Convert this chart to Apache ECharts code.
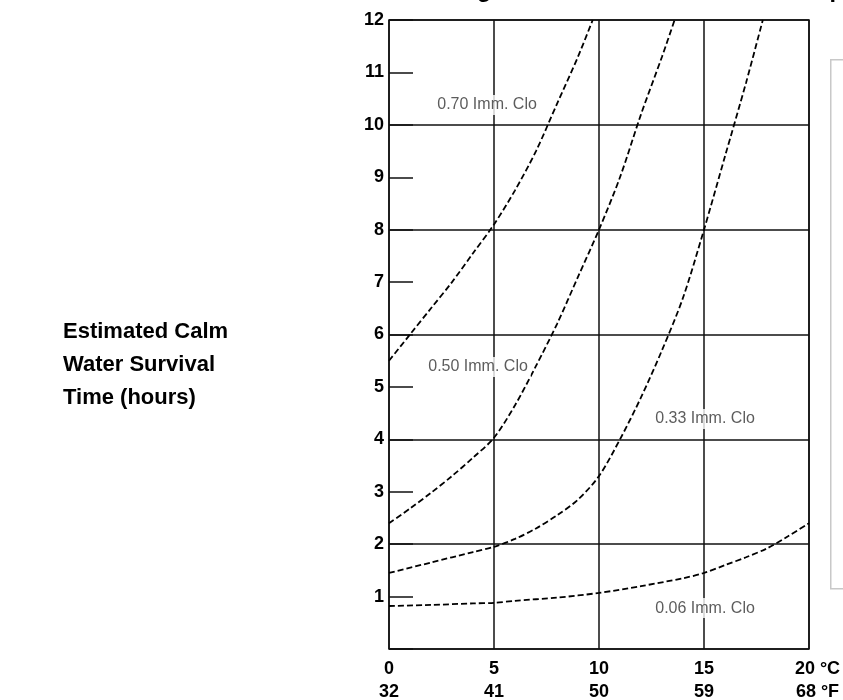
<!DOCTYPE html>
<html><head><meta charset="utf-8">
<script src="https://cdn.jsdelivr.net/npm/echarts@6/dist/echarts.min.js"></script>
<style>html,body{margin:0;padding:0;background:#fff}#c{width:843px;height:700px}</style>
</head><body><div id="c"></div><script>
// Tick labels
const tempC = [0, 5, 10, 15, 20];
const tempF = [32, 41, 50, 59, 68];
const unitC = '°C', unitF = '°F';
const hoursMin = 0, hoursMax = 12;

// Curves: [water temp °C, survival hours]
const clo070 = [[0,5.5],[1,6.0],[2,6.5],[3,7.0],[4,7.55],[5,8.1],[6,8.75],[7,9.5],[8,10.4],[9,11.3],[9.7,12]];
const clo050 = [[0,2.4],[1,2.68],[2,2.98],[3,3.3],[4,3.65],[5,4.03],[6,4.65],[7,5.4],[8,6.2],[9,7.1],[10,8.0],[11,9.0],[12,10.2],[13,11.3],[13.6,12]];
const clo033 = [[0,1.45],[2,1.65],[4,1.85],[5,1.95],[6,2.1],[7,2.3],[8,2.55],[9,2.85],[10,3.3],[11,4.0],[12,4.8],[13,5.7],[14,6.7],[15,8.0],[16,9.4],[17,10.8],[17.8,12]];
const clo006 = [[0,0.82],[2,0.84],[4,0.87],[5,0.88],[6,0.92],[8,0.98],[10,1.07],[12,1.2],[14,1.35],[15,1.45],[16,1.6],[17,1.75],[18,1.92],[19,2.15],[20,2.4]];

// Curve labels
const curveNames = ['0.70 Imm. Clo', '0.50 Imm. Clo', '0.33 Imm. Clo', '0.06 Imm. Clo'];
const labelX = [4.67, 4.24, 15.05, 15.05];
const labelY = [10.38, 5.38, 4.39, 0.78];

const titleText = 'Survival Time vs. Clothing Insulation and Sea Water Temperature';
const yTitle = 'Estimated Calm\nWater Survival\nTime (hours)';

const chart = echarts.init(document.getElementById('c'), null, {renderer: 'canvas'});
const curveStyle = {color: '#000', width: 1.8, type: [6, 3]};
const curves = [clo070, clo050, clo033, clo006];
const font = 'Liberation Sans, Arial';

const option = {
  animation: false,
  backgroundColor: '#fff',
  title: [
    {text: titleText, left: 193, top: -26, textStyle: {fontFamily: font, fontSize: 23.5, fontWeight: 'bold', color: '#000'}},
    {text: yTitle, left: 58, top: 310, textStyle: {fontFamily: font, fontSize: 22, fontWeight: 'bold', color: '#000', lineHeight: 33}}
  ],
  grid: {left: 389, right: 34, top: 20, bottom: 51, show: true, borderColor: '#111', borderWidth: 1.5,
    backgroundColor: 'transparent', containLabel: false, outerBoundsMode: 'none'},
  xAxis: {
    type: 'value', min: 0, max: 20, interval: 5,
    axisLine: {show: false}, axisTick: {show: false},
    splitLine: {show: true, lineStyle: {color: '#111', width: 1.5}},
    axisLabel: {
      margin: 9, color: '#000', fontFamily: font, fontSize: 18, fontWeight: 'bold', lineHeight: 23,
      formatter: v => {
        const i = tempC.indexOf(v);
        if (i < 0) return '';
        if (i === tempC.length - 1) return '{s|}' + tempC[i] + '{u| ' + unitC + '}\n{s|}' + tempF[i] + '{u| ' + unitF + '}';
        return tempC[i] + '\n' + tempF[i];
      },
      rich: {
        s: {width: 17},
        u: {fontFamily: font, fontSize: 18, fontWeight: 'bold', color: '#000', lineHeight: 23}
      }
    }
  },
  yAxis: [
    {
      type: 'value', min: hoursMin, max: hoursMax, interval: 1,
      axisLine: {show: false},
      axisTick: {show: true, inside: true, length: 24, lineStyle: {color: '#111', width: 1.5}},
      splitLine: {show: false},
      axisLabel: {margin: 5, color: '#000', fontFamily: font, fontSize: 18, fontWeight: 'bold',
        formatter: v => v === 0 ? '' : String(v)}
    },
    {
      type: 'value', min: hoursMin, max: hoursMax, interval: 2, position: 'left',
      axisLine: {show: false}, axisTick: {show: false}, axisLabel: {show: false},
      splitLine: {show: true, lineStyle: {color: '#111', width: 1.5}}
    }
  ],
  graphic: [
    {type: 'rect', left: 830, top: 59, shape: {width: 40, height: 529}, style: {fill: '#fff', stroke: '#c8c8c8', lineWidth: 1.5}, z: 1}
  ],
  series: curves.map((d, i) => ({
    type: 'line', data: d, smooth: 0.3, symbol: 'none', lineStyle: curveStyle, z: 3
  })).concat([{
    type: 'scatter', symbolSize: 0, z: 5,
    data: curveNames.map((n, i) => ({value: [labelX[i], labelY[i]], name: n})),
    label: {show: true, position: 'inside', formatter: p => p.name, color: '#333',
      fontFamily: font, fontSize: 16, backgroundColor: '#fff', padding: [2, 3]}
  }])
};
chart.setOption(option);
</script></body></html>
